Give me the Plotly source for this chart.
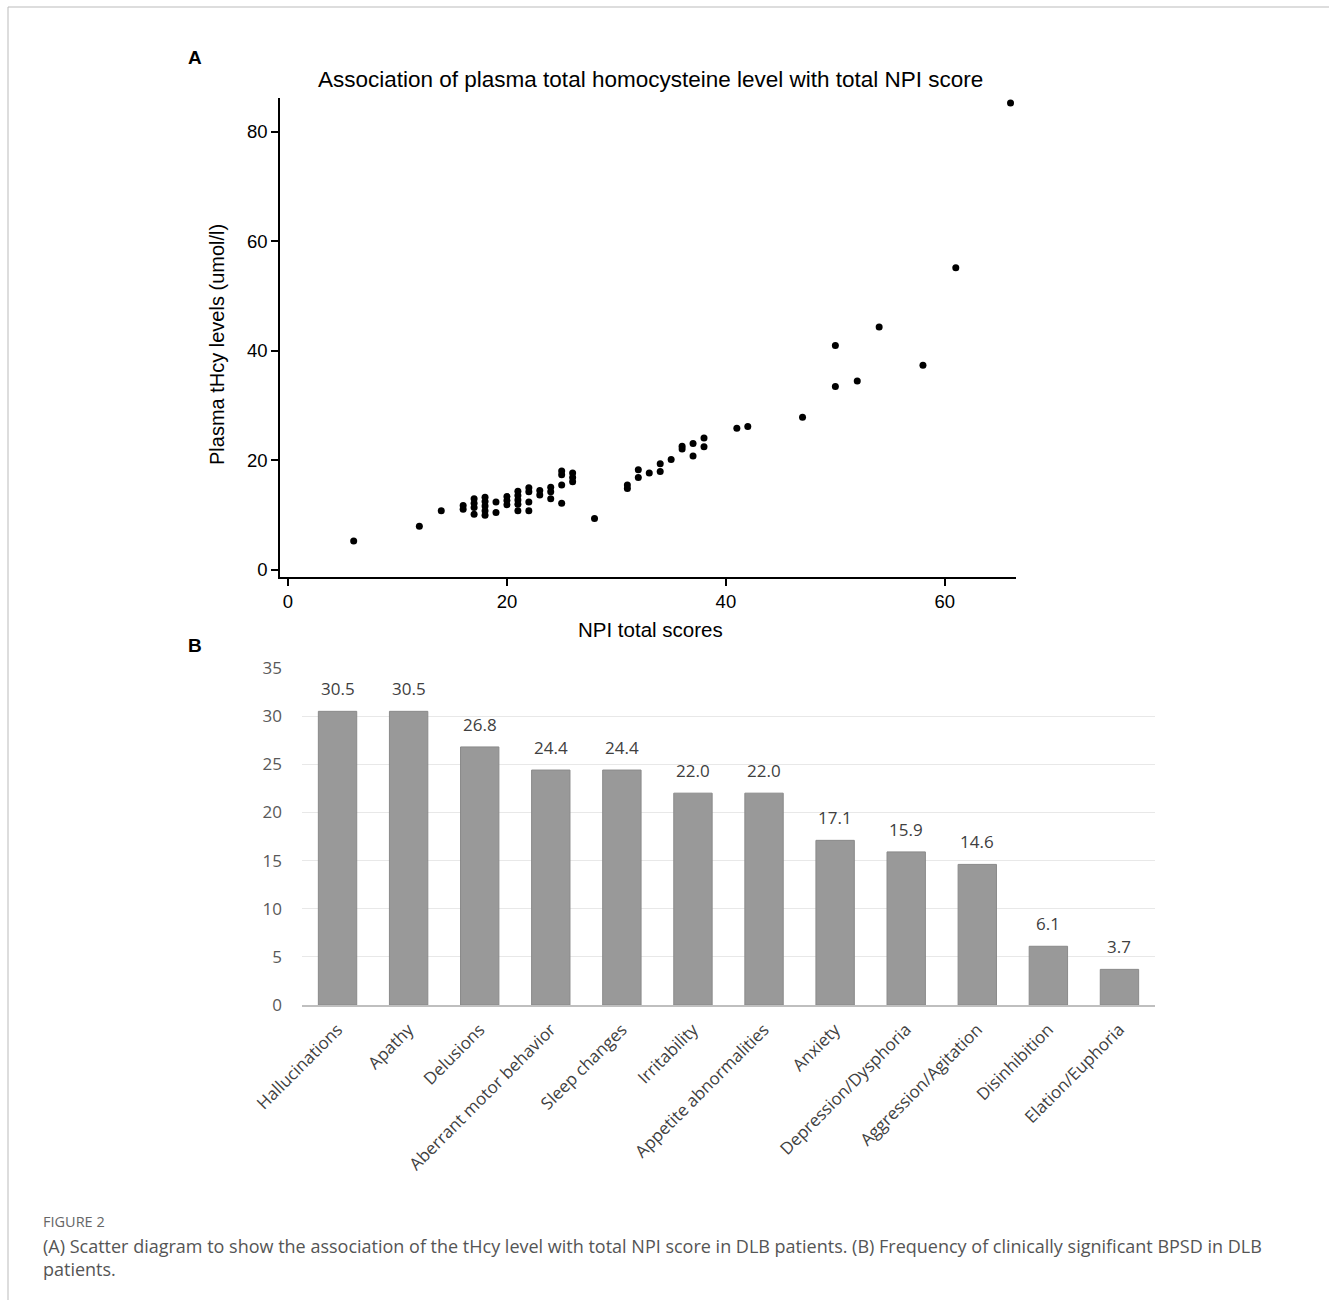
import plotly.graph_objects as go

# ---- Panel A data (NPI total score vs plasma tHcy) ----
npi_scores = [6, 12, 14, 16, 16, 17, 17, 17, 17, 18, 18, 18, 18, 18, 19, 19,
              20, 20, 20, 21, 21, 21, 21, 21, 22, 22, 22, 22, 23, 23, 24, 24, 24,
              25, 25, 25, 25, 26, 26, 26, 28, 31, 31, 32, 32, 33, 34, 34, 35,
              36, 36, 37, 37, 38, 38, 41, 42, 47, 50, 50, 52, 54, 58, 61, 66]
thcy_levels = [5.3, 8.0, 10.8, 11.8, 11.1, 13.0, 12.2, 11.4, 10.2, 13.3, 12.5, 11.7, 10.8, 10.0, 12.4, 10.5,
               13.4, 12.7, 11.9, 14.4, 13.6, 12.8, 12.0, 10.8, 15.0, 14.3, 12.4, 10.8, 14.5, 13.7, 15.1, 14.3, 13.0,
               18.1, 17.4, 15.5, 12.2, 17.7, 16.9, 16.1, 9.4, 15.5, 14.9, 18.3, 16.9, 17.7, 19.4, 18.0, 20.2,
               22.6, 22.1, 23.1, 20.8, 24.1, 22.5, 25.9, 26.2, 27.9, 41.0, 33.5, 34.5, 44.4, 37.4, 55.2, 85.3]
scatter_xticks = [0, 20, 40, 60]
scatter_yticks = [0, 20, 40, 60, 80]

# ---- Panel B data (frequency of clinically significant BPSD) ----
symptoms = ["Hallucinations", "Apathy", "Delusions", "Aberrant motor behavior",
            "Sleep changes", "Irritability", "Appetite abnormalities", "Anxiety",
            "Depression/Dysphoria", "Aggression/Agitation", "Disinhibition", "Elation/Euphoria"]
frequency = [30.5, 30.5, 26.8, 24.4, 24.4, 22.0, 22.0, 17.1, 15.9, 14.6, 6.1, 3.7]
bar_yticks = [0, 5, 10, 15, 20, 25, 30, 35]

W, H = 1329, 1300
def px_x(p): return p / W
def px_y(p): return 1 - p / H

fig = go.Figure()

fig.add_trace(go.Scatter(
    x=npi_scores, y=thcy_levels, mode="markers",
    marker=dict(color="black", size=7),
    xaxis="x", yaxis="y", showlegend=False, hoverinfo="x+y"))

bar_font = "Open Sans, Liberation Sans, sans-serif"
fig.add_trace(go.Bar(
    x=symptoms, y=frequency,
    marker=dict(color="#999999", line=dict(color="#8a8a8a", width=1)),
    width=0.54,
    xaxis="x2", yaxis="y2", showlegend=False))

# value labels above the bars
for s, v in zip(symptoms, frequency):
    fig.add_annotation(x=s, y=v, xref="x2", yref="y2", text=f"{v:.1f}",
                       showarrow=False, yanchor="bottom", yshift=9,
                       font=dict(family=bar_font, size=17, color="#404040"))

axis_font = dict(family="Liberation Sans, Arial, sans-serif", size=18.5, color="black")

fig.update_layout(
    width=W, height=H,
    margin=dict(l=0, r=0, t=0, b=0, autoexpand=False),
    paper_bgcolor="white", plot_bgcolor="white",
    font=dict(family="Liberation Sans, Arial, sans-serif"),
    xaxis=dict(domain=[px_x(280), px_x(1016)], range=[-0.73, 66.5], automargin=False,
               tickvals=scatter_xticks, ticks="outside", ticklen=7, tickwidth=1.5,
               tickcolor="black", showline=True, linecolor="black", linewidth=1.5,
               showgrid=False, zeroline=False, tickfont=axis_font, anchor="y"),
    yaxis=dict(domain=[px_y(577), px_y(98)], range=[-1.28, 86.2], automargin=False,
               tickvals=scatter_yticks, ticks="outside", ticklen=7, tickwidth=1.5,
               tickcolor="black", showline=True, linecolor="black", linewidth=1.5,
               showgrid=False, zeroline=False, tickfont=axis_font, anchor="x"),
    xaxis2=dict(domain=[px_x(302), px_x(1155)], anchor="y2", automargin=False,
                tickangle=-45, showline=True, linecolor="#bfbfbf", linewidth=2,
                showgrid=False, ticks="", ticklabelstandoff=6,
                tickfont=dict(family=bar_font, size=17, color="#404040")),
    yaxis2=dict(domain=[px_y(1005), px_y(668)], range=[0, 35], anchor="x2", automargin=False,
                tickvals=bar_yticks, showgrid=True, gridcolor="#e8e8e8", gridwidth=1,
                zeroline=False, showline=False, ticks="", ticklabelstandoff=19,
                tickfont=dict(family=bar_font, size=17, color="#595959")),
    bargap=0.46,
)

def ann(text, x, y, **kw):
    fig.add_annotation(text=text, x=px_x(x), y=px_y(y), xref="paper", yref="paper",
                       showarrow=False, **kw)

ann("<b>A</b>", 195, 57, font=dict(size=19, color="black"), xanchor="center", yanchor="middle")
ann("<b>B</b>", 195, 645, font=dict(size=19, color="black"), xanchor="center", yanchor="middle")
ann("Association of plasma total homocysteine level with total NPI score", 650, 79,
    font=dict(size=22.5, color="black"), xanchor="center", yanchor="middle")
ann("NPI total scores", 650, 629, font=dict(size=20.5, color="black"), xanchor="center", yanchor="middle")
ann("Plasma tHcy levels (umol/l)", 217, 345, textangle=-90,
    font=dict(size=20, color="black"), xanchor="center", yanchor="middle")

cap_font = "Open Sans, Liberation Sans, sans-serif"
ann("FIGURE 2", 41, 1221, xanchor="left", yanchor="middle",
    font=dict(family=cap_font, size=14.5, color="#666666"))
ann("(A) Scatter diagram to show the association of the tHcy level with total NPI score in DLB patients. (B) Frequency of clinically significant BPSD in DLB<br>patients.",
    41, 1232, xanchor="left", yanchor="top", align="left",
    font=dict(family=cap_font, size=18, color="#555555"))

# frame lines (top and left border)
fig.add_shape(type="line", xref="paper", yref="paper", x0=px_x(8), x1=1, y0=px_y(7), y1=px_y(7),
              line=dict(color="#bbbbbb", width=1))
fig.add_shape(type="line", xref="paper", yref="paper", x0=px_x(8), x1=px_x(8), y0=px_y(7), y1=0,
              line=dict(color="#bbbbbb", width=1))

fig.write_html("out.html", config={"displayModeBar": False},
               post_script="document.body.style.margin='0';document.body.style.padding='0';")
